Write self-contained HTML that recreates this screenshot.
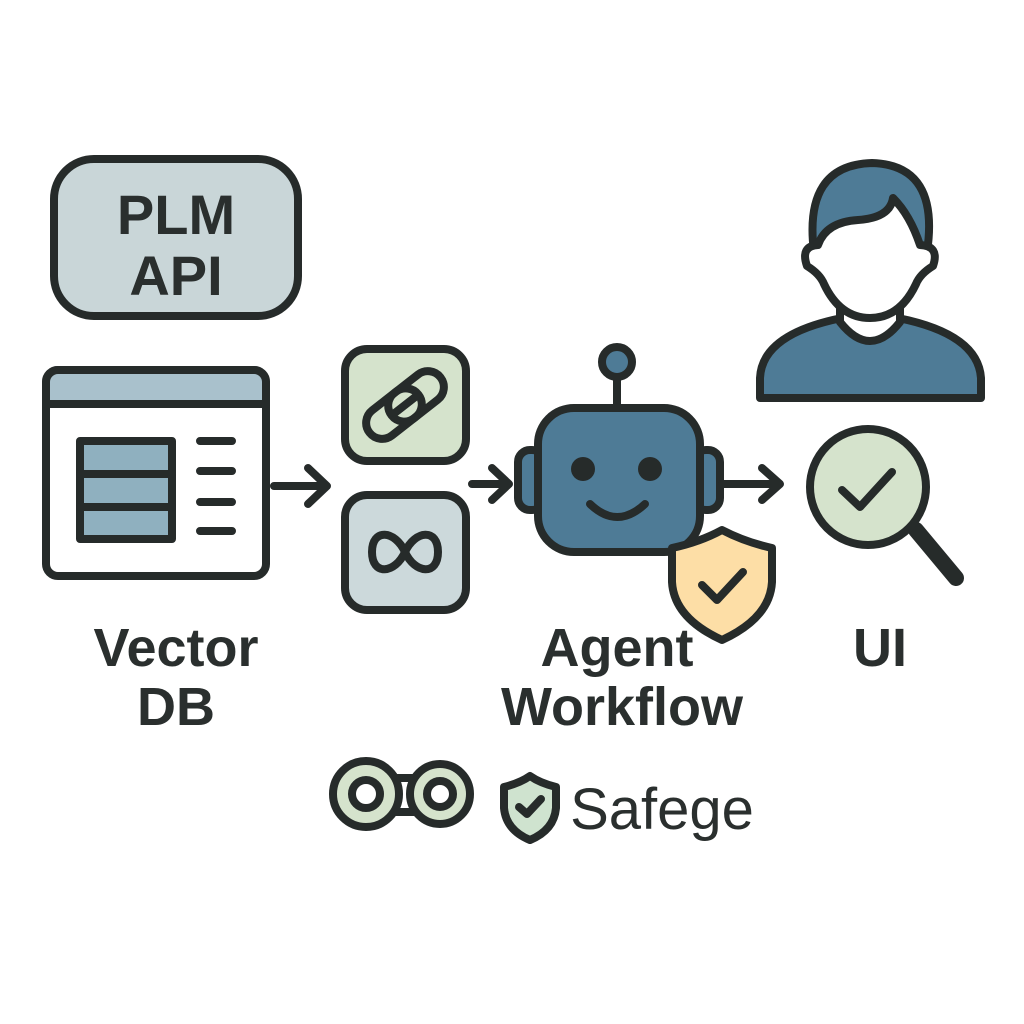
<!DOCTYPE html><html><head><style>body{margin:0;background:#fff}svg{display:block}text{font-family:"Liberation Sans",sans-serif;font-weight:bold;fill:#2a2f2e;text-anchor:middle}</style></head><body>
<svg width="1024" height="1024" viewBox="0 0 1024 1024" fill="none" stroke="#262b2a" stroke-width="8" stroke-linecap="round" stroke-linejoin="round">
<rect x="54" y="159" width="244" height="157" rx="40" fill="#c9d6d8"/>
<text x="176" y="234" font-size="56" stroke="none">PLM</text>
<text x="176" y="295" font-size="56" stroke="none">API</text>
<rect x="46" y="370" width="220" height="206" rx="12" fill="#fff"/>
<path d="M46 404H266V382a12 12 0 0 0-12-12H58a12 12 0 0 0-12 12Z" fill="#a9c1cc"/>
<rect x="80" y="441" width="92" height="98" fill="#8fb0bf"/>
<path d="M80 474H172M80 507H172M200 441H232M200 471H232M200 502H232M200 531H232"/>
<path d="M274 486H326M308 468L327 486L308 504"/>
<rect x="345" y="349" width="121" height="112" rx="22" fill="#d5e3cc"/>
<g transform="rotate(-38 405 405)"><rect x="360" y="389" width="62" height="32" rx="16"/><rect x="388" y="389" width="62" height="32" rx="16"/><path d="M392 405H418"/></g>
<rect x="345" y="495" width="121" height="115" rx="22" fill="#ccd9db"/>
<path d="M405 552C395 530 372 528 372 552C372 576 395 574 405 552C415 530 438 528 438 552C438 576 415 574 405 552Z"/>
<path d="M472 484H508M492 468L509 484L492 500"/>
<path d="M617 378V408"/><circle cx="617" cy="362" r="15" fill="#4e7b96"/>
<rect x="518" y="450" width="26" height="60" rx="12" fill="#4e7b96"/>
<rect x="694" y="450" width="26" height="60" rx="12" fill="#4e7b96"/>
<rect x="538" y="408" width="162" height="144" rx="36" fill="#4e7b96"/>
<circle cx="583" cy="469" r="12" fill="#262b2a" stroke="none"/><circle cx="650" cy="469" r="12" fill="#262b2a" stroke="none"/>
<path d="M590 504Q617 530 645 504"/>
<path d="M722 484H778M762 468L780 484L762 500"/>
<path d="M672 548Q700 542 722 530Q745 542 772 548V582Q770 618 722 640Q674 618 672 582Z" fill="#fddea6"/>
<path d="M702 585L717 600L743 572"/>
<path d="M760 398V378Q762 334 842 318H898Q978 334 981 378V398Z" fill="#4e7b96"/>
<path d="M840 300V322Q870 360 900 322V300" fill="#fff"/>
<path d="M814 252Q803 165 872 163Q940 165 927 252Z" fill="#4e7b96"/>
<path d="M818 245Q826 222 858 220Q890 218 893 198Q910 215 920 245Q940 246 933 266Q920 274 916 284Q900 318 870 318Q840 318 824 284Q820 274 807 266Q800 246 818 245Z" fill="#fff"/>
<path d="M916 530L956 578" stroke-width="16"/>
<circle cx="868" cy="487" r="58" fill="#d5e3cc"/>
<path d="M842 490L860 507L892 472"/>
<text x="176" y="666" font-size="54" stroke="none">Vector</text>
<text x="176" y="725" font-size="54" stroke="none">DB</text>
<text x="617" y="666" font-size="54" stroke="none">Agent</text>
<text x="622" y="725" font-size="54" stroke="none">Workflow</text>
<text x="880" y="666" font-size="54" stroke="none">UI</text>
<rect x="380" y="778" width="50" height="34" fill="#fff"/>
<circle cx="366" cy="794" r="33" fill="#d5e3cc"/><circle cx="366" cy="794" r="14" fill="#fff"/>
<circle cx="440" cy="794" r="30" fill="#d5e3cc"/><circle cx="440" cy="794" r="13" fill="#fff"/>
<path d="M504 787Q520 783 530 776Q540 783 556 787V808Q554 830 530 840Q506 830 504 808Z" fill="#cfe3cf"/>
<path d="M519 807L527 814L541 799"/>
<text x="662" y="829" font-size="58" stroke="none" style="font-weight:normal">Safege</text>
</svg></body></html>
